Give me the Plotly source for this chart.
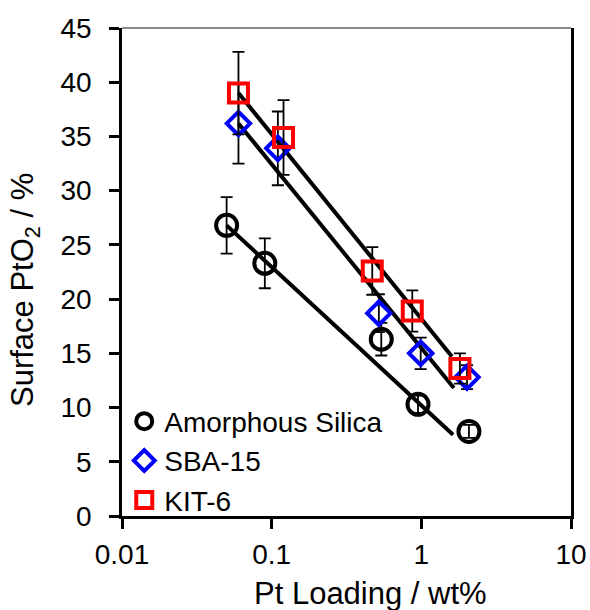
import numpy as np
import plotly.graph_objects as go

# ---- data ----
amorph_x = [0.05, 0.09, 0.54, 0.95, 2.08]
amorph_y = [26.8, 23.3, 16.3, 10.3, 7.8]
amorph_err = [2.6, 2.3, 1.5, 0.8, 0.6]

sba_x = [0.06, 0.11, 0.52, 0.99, 2.02]
sba_y = [36.2, 33.9, 18.7, 15.0, 12.8]
sba_err = [3.7, 3.4, 1.75, 1.45, 1.1]

kit_x = [0.06, 0.12, 0.47, 0.87, 1.81]
kit_y = [39.0, 34.9, 22.6, 18.9, 13.6]
kit_err = [3.8, 3.45, 2.2, 1.9, 1.4]

# trend lines (start / end)
amorph_trend_x = [0.05, 1.63]
amorph_trend_y = [26.8, 7.5]
sba_trend_x = [0.06, 1.65]
sba_trend_y = [36.2, 11.8]
kit_trend_x = [0.06, 1.60]
kit_trend_y = [39.0, 14.7]

x_ticks = [0.01, 0.1, 1, 10]
x_tick_text = ["0.01", "0.1", "1", "10"]
y_ticks = list(range(0, 50, 5))

FONT = "Liberation Sans, Arial, sans-serif"

fig = go.Figure()

for tx, ty in [(amorph_trend_x, amorph_trend_y), (sba_trend_x, sba_trend_y), (kit_trend_x, kit_trend_y)]:
    fig.add_trace(go.Scatter(x=tx, y=ty, mode="lines", line=dict(color="black", width=4),
                             showlegend=False, hoverinfo="skip"))

series = [
    ("Amorphous Silica", amorph_x, amorph_y, amorph_err, "circle-open", "black", 21, 4),
    ("SBA-15", sba_x, sba_y, sba_err, "diamond-open", "#0000FF", 18, 4),
    ("KIT-6", kit_x, kit_y, kit_err, "square-open", "#FF0000", 19, 4),
]
for name, x, y, e, sym, col, size, lw in series:
    fig.add_trace(go.Scatter(
        x=x, y=y, mode="markers", name=name,
        error_y=dict(type="data", array=e, visible=True, color="black", thickness=1.8, width=6),
        marker=dict(symbol=sym, size=size, color=col, line=dict(color=col, width=lw)),
    ))

fig.update_layout(
    width=590, height=610,
    margin=dict(l=122, r=19, t=28, b=94, autoexpand=False),
    paper_bgcolor="white", plot_bgcolor="white",
    font=dict(family=FONT, size=28, color="black"),
    showlegend=True,
    legend=dict(x=0.005, y=0.245, xanchor="left", yanchor="top",
                bgcolor="rgba(0,0,0,0)", font=dict(size=28, family=FONT),
                tracegroupgap=0, itemwidth=30),
)
fig.update_xaxes(
    type="log", range=[-2, 1], tickvals=x_ticks, ticktext=x_tick_text,
    showgrid=False, zeroline=False, showline=True, linecolor="black", linewidth=2.5,
    ticks="outside", ticklen=10, tickwidth=2.5, tickcolor="black",
    tickfont=dict(size=28, family=FONT), ticklabelstandoff=2, automargin=False,
)
fig.update_yaxes(
    range=[0, 45], tickvals=y_ticks,
    showgrid=False, zeroline=False, showline=True, linecolor="black", linewidth=2.5,
    mirror=True,
    ticks="outside", ticklen=10, tickwidth=2.5, tickcolor="black",
    tickfont=dict(size=28, family=FONT), ticklabelstandoff=12, automargin=False,
)
# top frame line (grey)
fig.add_shape(type="line", xref="paper", yref="paper", x0=0, x1=1, y0=1, y1=1,
              line=dict(color="#8c8c8c", width=2))

fig.add_annotation(text="Pt Loading / wt%", xref="paper", yref="paper",
                   x=(370 - 122) / 449, y=-(593 - 516) / 488, xanchor="center", yanchor="middle",
                   showarrow=False, font=dict(size=31, family=FONT))
fig.add_annotation(text="Surface PtO<sub>2</sub> / %", xref="paper", yref="paper",
                   x=-(122 - 25) / 449, y=(516 - 290) / 488, xanchor="center", yanchor="middle",
                   textangle=-90, showarrow=False, font=dict(size=31, family=FONT))

fig.write_html("out.html")
